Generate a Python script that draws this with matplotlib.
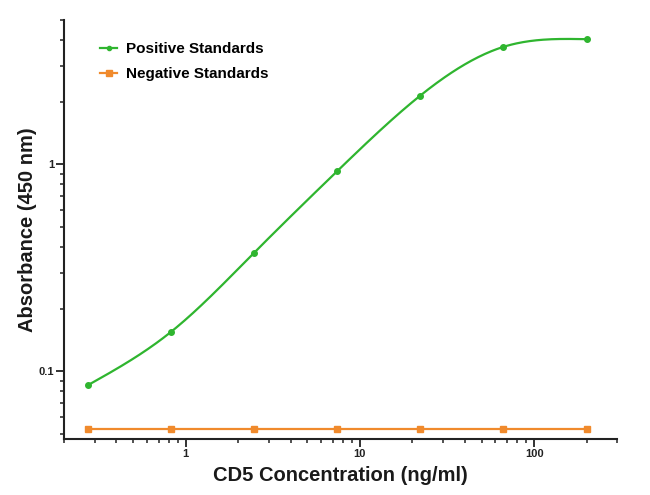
import matplotlib
matplotlib.use("Agg")
import matplotlib.pyplot as plt
import numpy as np
from matplotlib.ticker import LogLocator, FixedFormatter, FixedLocator, NullFormatter

plt.rcParams['font.family'] = ['Liberation Sans', 'DejaVu Sans']

# 3-fold serial dilutions from 200 ng/ml
conc = [0.274, 0.823, 2.47, 7.41, 22.2, 66.7, 200]
pos_abs = [0.0856, 0.155, 0.374, 0.928, 2.15, 3.70, 4.03]
neg_abs = [0.0525, 0.0525, 0.0525, 0.0525, 0.0525, 0.0525, 0.0525]

green = '#2fb52f'
orange = '#f08a2c'


def natural_spline(x, y, xs):
    # natural cubic spline through the points, used for the smooth standard curve
    n = len(x)
    h = np.diff(x)
    A = np.zeros((n, n))
    r = np.zeros(n)
    A[0, 0] = A[-1, -1] = 1
    for i in range(1, n - 1):
        A[i, i - 1] = h[i - 1]
        A[i, i] = 2 * (h[i - 1] + h[i])
        A[i, i + 1] = h[i]
        r[i] = 3 * ((y[i + 1] - y[i]) / h[i] - (y[i] - y[i - 1]) / h[i - 1])
    c = np.linalg.solve(A, r)
    out = np.empty_like(xs)
    for k, v in enumerate(xs):
        i = min(max(np.searchsorted(x, v) - 1, 0), n - 2)
        b = (y[i + 1] - y[i]) / h[i] - h[i] * (2 * c[i] + c[i + 1]) / 3
        d = (c[i + 1] - c[i]) / (3 * h[i])
        t = v - x[i]
        out[k] = y[i] + b * t + c[i] * t ** 2 + d * t ** 3
    return out


lx = np.log10(conc)
ly = np.log10(pos_abs)
xs = np.linspace(lx[0], lx[-1], 300)
ys = natural_spline(lx, ly, xs)

fig = plt.figure(figsize=(6.5, 4.95), dpi=100)
ax = fig.add_axes([0.0985, 0.113, 0.851, 0.847])

ax.plot(10 ** xs, 10 ** ys, color=green, lw=1.6)
ax.plot(conc, pos_abs, 'o', color=green, ms=4)
ax.plot(conc, neg_abs, '-s', color=orange, lw=1.6, ms=5)

# legend handles
ax.plot([], [], '-o', color=green, lw=1.6, ms=3, label='Positive Standards')
ax.plot([], [], '-s', color=orange, lw=1.6, ms=4, label='Negative Standards')
leg = ax.legend(loc='upper left', bbox_to_anchor=(0.04, 0.98), frameon=False,
                handlelength=1.15, handletextpad=0.55, labelspacing=0.75,
                prop={'weight': 'bold', 'size': 11})

ax.set_xscale('log')
ax.set_yscale('log')
ax.set_xlim(0.2, 300)
ax.set_ylim(0.047, 5)

ax.yaxis.set_major_locator(FixedLocator([0.1, 1]))
ax.yaxis.set_major_formatter(FixedFormatter(['0.1', '1']))
ax.yaxis.set_minor_locator(LogLocator(base=10, subs=np.arange(2, 10)))
ax.yaxis.set_minor_formatter(NullFormatter())
ax.xaxis.set_major_locator(FixedLocator([1, 10, 100]))
ax.xaxis.set_major_formatter(FixedFormatter(['1', '10', '100']))
ax.xaxis.set_minor_locator(LogLocator(base=10, subs=np.arange(2, 10)))
ax.xaxis.set_minor_formatter(NullFormatter())

for s in ['top', 'right']:
    ax.spines[s].set_visible(False)
for s in ['left', 'bottom']:
    ax.spines[s].set_linewidth(1.5)
    ax.spines[s].set_color('#222222')

ax.tick_params(which='major', length=6, width=1.3, color='#222222',
               labelsize=8, labelcolor='#222222', pad=1)
ax.tick_params(which='minor', length=3, width=1.1, color='#222222')
for lab in ax.get_xticklabels() + ax.get_yticklabels():
    lab.set_fontweight('bold')

ax.set_xlabel('CD5 Concentration (ng/ml)', fontsize=14.5, fontweight='bold',
              color='#1a1a1a', labelpad=5)
ax.set_ylabel('Absorbance (450 nm)', fontsize=14.5, fontweight='bold',
              color='#1a1a1a', labelpad=1)

fig.savefig('out.png', dpi=100)
